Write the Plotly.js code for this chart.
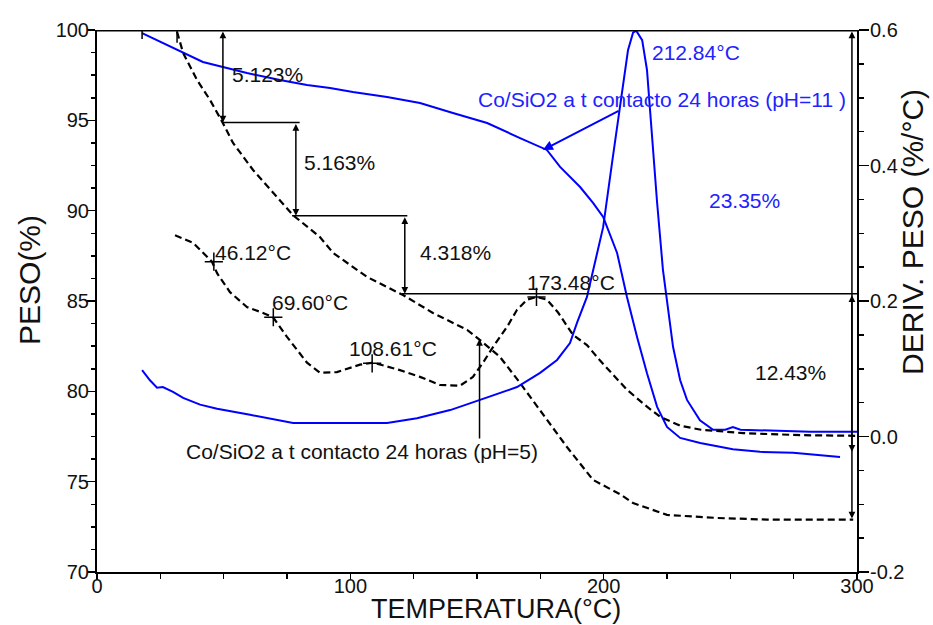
<!DOCTYPE html>
<html><head><meta charset="utf-8">
<script src="https://cdn.plot.ly/plotly-3.0.1.min.js"></script>
<style>html,body{margin:0;padding:0;background:#fff}</style>
</head><body><div id="chart" style="width:933px;height:625px"></div>
<script>
// ---- DATA ----
// TG weight curve, pH=11 (blue, left axis)
const tg11T = [17.8, 26, 34, 41.8, 49.7, 59.2, 72.2, 82.9, 92, 101, 114.5, 127.5, 140.5, 154, 167, 177.6, 182.8, 190.7, 195.8, 199.8, 205.3, 209.2, 213.2, 217.1, 221.1, 225, 230.2, 238.1, 251, 261.7, 274.8, 289.4, 293.3];
const tg11W = [99.83, 99.28, 98.73, 98.23, 97.95, 97.62, 97.23, 96.96, 96.79, 96.57, 96.29, 95.96, 95.41, 94.85, 94.02, 93.36, 92.42, 91.31, 90.43, 89.65, 87.66, 85.22, 83.0, 81.0, 79.14, 78.03, 77.42, 77.14, 76.8, 76.65, 76.6, 76.43, 76.37];
// Derivative curve, pH=11 (blue, right axis)
const dtg11T = [17.8, 20.9, 23.7, 26, 30, 34, 40.7, 47.4, 60.4, 69.5, 77.4, 88, 114.5, 126.3, 139.4, 151.2, 165.8, 174.9, 181.6, 186.7, 189.5, 193.4, 195.8, 197.8, 199.8, 203.3, 205.7, 207.7, 209.6, 211.6, 212.84, 215.2, 217.1, 218.3, 219.5, 221.1, 223.4, 225.4, 227.4, 230.2, 232.9, 238, 243.2, 248, 251, 254, 281.5, 300];
const dtg11D = [0.098, 0.083, 0.072, 0.073, 0.066, 0.057, 0.047, 0.041, 0.032, 0.026, 0.020, 0.020, 0.020, 0.027, 0.039, 0.054, 0.073, 0.094, 0.113, 0.138, 0.168, 0.206, 0.246, 0.275, 0.309, 0.404, 0.467, 0.526, 0.570, 0.596, 0.599, 0.585, 0.541, 0.482, 0.418, 0.345, 0.246, 0.187, 0.132, 0.083, 0.054, 0.024, 0.010, 0.010, 0.014, 0.010, 0.007, 0.007];
// TG weight curve, pH=5 (black dashed, left axis)
const tg5T = [31.6, 34, 39.5, 44.6, 49.3, 53.7, 61.6, 69.5, 77.4, 88, 93.2, 106.6, 120.8, 132.6, 146.1, 151.2, 159.1, 167, 171, 174.9, 185.5, 195.8, 206.5, 211.6, 225, 244.8, 264.5, 298.5];
const tg5W = [99.9, 98.73, 97.23, 96.13, 94.95, 93.75, 92.25, 90.98, 89.75, 88.54, 87.66, 86.33, 85.33, 84.34, 83.4, 82.84, 81.9, 80.46, 79.69, 78.97, 76.92, 75.1, 74.3, 73.82, 73.16, 72.99, 72.9, 72.9];
// Derivative curve, pH=5 (black dashed, right axis)
const dtg5T = [30.8, 37.9, 45.4, 47.4, 52.5, 59.2, 64.4, 69.5, 75, 79, 82.9, 88, 94.7, 103.8, 109, 119.6, 127.5, 135.4, 143.3, 148.4, 152.4, 156.3, 161.9, 165.8, 169.8, 173.48, 177.6, 182, 187.9, 193.4, 198.6, 209.2, 217.1, 222.3, 230.2, 238.4, 255, 277.5, 300];
const dtg5D = [0.297, 0.286, 0.258, 0.241, 0.213, 0.191, 0.184, 0.176, 0.147, 0.128, 0.109, 0.094, 0.095, 0.106, 0.109, 0.098, 0.088, 0.076, 0.075, 0.088, 0.109, 0.132, 0.162, 0.187, 0.202, 0.206, 0.202, 0.183, 0.150, 0.135, 0.112, 0.069, 0.044, 0.029, 0.016, 0.010, 0.005, 0.002, 0.001];
// Peak temperatures (pH=5 derivative) and their derivative values
const peakT = [46.12, 69.60, 108.61, 173.48];
const peakD = [0.258, 0.176, 0.108, 0.206];
// Peak of pH=11 derivative
const peak11T = 212.84;
// Weight losses, pH=5 (steps) and pH=11 (total)
const losses5 = [5.123, 5.163, 4.318, 12.43];
const loss11 = 23.35;
// Labels
const label11 = 'Co/SiO2 a t contacto 24 horas (pH=11 )';
const label5 = 'Co/SiO2 a t contacto 24 horas (pH=5)';
const yTicks2 = [-0.2, 0.0, 0.2, 0.4, 0.6];
const yTickText2 = ['-0.2', '0.0', '0.2', '0.4', '0.6'];

// ---- STYLE / LAYOUT ----
const F = 'Liberation Sans, Arial, Helvetica, sans-serif';
const BLUE = '#0000ff';
const TBLUE = '#2222ff';
const DASH = '7px,4px';

const levels = [100];
losses5.forEach(d => levels.push(+(levels[levels.length - 1] - d).toFixed(3)));

const traces = [
  {x: tg11T, y: tg11W, mode: 'lines', line: {color: BLUE, width: 2}, yaxis: 'y', hoverinfo: 'skip'},
  {x: dtg11T, y: dtg11D, mode: 'lines', line: {color: BLUE, width: 2}, yaxis: 'y2', hoverinfo: 'skip'},
  {x: tg5T, y: tg5W, mode: 'lines', line: {color: '#000', width: 2.2, dash: DASH}, yaxis: 'y', hoverinfo: 'skip'},
  {x: dtg5T, y: dtg5D, mode: 'lines', line: {color: '#000', width: 2.2, dash: DASH}, yaxis: 'y2', hoverinfo: 'skip'},
  {x: peakT, y: peakD, mode: 'markers', yaxis: 'y2', hoverinfo: 'skip',
   marker: {symbol: 'cross-thin-open', size: 13, color: '#000', line: {color: '#000', width: 1.5}}}
];

// positions of the measurement arrows (x, in °C) and their labels
const stepX = [49.7, 78.5, 121.5, 298];
const lossLabelPos = [[52.5, 97.51], [80.9, 92.64], [126.7, 87.66], [259, 81.07]];
const peakLabelPos = [[45.8, 0.272], [68.3, 0.1985], [98.7, 0.1306], [169, 0.228]];

const annotations = [];
const shapes = [];
const txtFont = (c) => ({family: F, size: 21, color: c});

losses5.forEach((d, i) => {
  annotations.push({x: stepX[i], y: levels[i + 1], ax: stepX[i], ay: levels[i],
    xref: 'x', yref: 'y', axref: 'x', ayref: 'y', text: '', showarrow: true,
    arrowhead: 2, startarrowhead: 2, arrowside: 'end+start', arrowsize: 0.9, startarrowsize: 0.9,
    arrowwidth: 1.5, arrowcolor: '#000'});
  annotations.push({x: lossLabelPos[i][0], y: lossLabelPos[i][1], xref: 'x', yref: 'y',
    text: d.toFixed(d < 10 ? 3 : 2) + '%', showarrow: false, xanchor: 'left', yanchor: 'middle',
    font: txtFont('#111')});
});
// pH=11 total loss arrow
annotations.push({x: stepX[3], y: 100 - loss11, ax: stepX[3], ay: 100,
  xref: 'x', yref: 'y', axref: 'x', ayref: 'y', text: '', showarrow: true,
  arrowhead: 2, startarrowhead: 2, arrowside: 'end+start', arrowsize: 0.9, startarrowsize: 0.9,
  arrowwidth: 1.5, arrowcolor: '#000'});
annotations.push({x: 240.8, y: 90.59, xref: 'x', yref: 'y', text: loss11.toFixed(2) + '%',
  showarrow: false, xanchor: 'left', yanchor: 'middle', font: txtFont(TBLUE)});
annotations.push({x: 218.3, y: 98.78, xref: 'x', yref: 'y', text: peak11T.toFixed(2) + '°C',
  showarrow: false, xanchor: 'left', yanchor: 'middle', font: txtFont(TBLUE)});

// peak labels
peakT.forEach((t, i) => {
  annotations.push({x: peakLabelPos[i][0], y: peakLabelPos[i][1], xref: 'x', yref: 'y2',
    text: t.toFixed(2) + '°C', showarrow: false, xanchor: 'left', yanchor: 'middle', font: txtFont('#111')});
});

// series labels with pointers
annotations.push({x: 223, y: 96.13, xref: 'x', yref: 'y', text: label11, showarrow: false,
  xanchor: 'center', yanchor: 'middle', font: txtFont(TBLUE)});
annotations.push({x: 176, y: 93.36, ax: 206.5, ay: 95.57, xref: 'x', yref: 'y', axref: 'x', ayref: 'y',
  text: '', showarrow: true, arrowhead: 2, arrowsize: 1, arrowwidth: 2, arrowcolor: BLUE});
annotations.push({x: 104.8, y: 76.65, xref: 'x', yref: 'y', text: label5, showarrow: false,
  xanchor: 'center', yanchor: 'middle', font: txtFont('#111')});
annotations.push({x: 151, y: 82.9, ax: 151, ay: 77.3, xref: 'x', yref: 'y', axref: 'x', ayref: 'y',
  text: '', showarrow: true, arrowhead: 2, arrowsize: 0.9, arrowwidth: 1.5, arrowcolor: '#000'});

// axis titles
annotations.push({xref: 'paper', yref: 'paper', x: 0.525, y: -0.069, text: 'TEMPERATURA(°C)',
  showarrow: false, xanchor: 'center', yanchor: 'middle', font: {family: F, size: 27, color: '#111'}});
annotations.push({xref: 'paper', yref: 'paper', x: -0.088, y: 0.539, text: 'PESO(%)', textangle: -90,
  showarrow: false, xanchor: 'center', yanchor: 'middle', font: {family: F, size: 30, color: '#111'}});
annotations.push({xref: 'paper', yref: 'paper', x: 1.072, y: 0.627, text: 'DERIV. PESO (%/°C)', textangle: -90,
  showarrow: false, xanchor: 'center', yanchor: 'middle', font: {family: F, size: 30, color: '#111'}});

// step connector lines
shapes.push({type: 'line', xref: 'x', yref: 'y', x0: 0, x1: 300, y0: levels[0], y1: levels[0], line: {color: '#000', width: 3}});
shapes.push({type: 'line', xref: 'x', yref: 'y', x0: 49.3, x1: 80, y0: levels[1], y1: levels[1], line: {color: '#000', width: 1.5}});
shapes.push({type: 'line', xref: 'x', yref: 'y', x0: 77, x1: 122.5, y0: levels[2], y1: levels[2], line: {color: '#000', width: 1.5}});
shapes.push({type: 'line', xref: 'x', yref: 'y', x0: 120.4, x1: 300, y0: levels[3], y1: levels[3], line: {color: '#000', width: 1.5}});
// start markers
shapes.push({type: 'line', xref: 'x', yref: 'y', x0: tg11T[0], x1: tg11T[0], y0: 99.5, y1: 100.1, line: {color: '#000', width: 1.5}});
shapes.push({type: 'line', xref: 'x', yref: 'y', x0: tg5T[0], x1: tg5T[0], y0: 99.3, y1: 100.1, line: {color: '#000', width: 1.5}});

const axBase = {showgrid: false, zeroline: false, showline: true, linecolor: '#000', linewidth: 2,
  ticks: 'outside', tickcolor: '#000', tickwidth: 1.5, tickfont: {family: F, size: 20, color: '#111'}};

const layout = {
  width: 933, height: 625,
  margin: {l: 97, r: 76, t: 30, b: 53},
  paper_bgcolor: '#fff', plot_bgcolor: '#fff',
  showlegend: false,
  xaxis: Object.assign({}, axBase, {range: [0, 300], tick0: 0, dtick: 100, ticklen: 6, ticklabelstandoff: -11,
    minor: {dtick: 25, tick0: 0, ticks: 'outside', ticklen: 5, tickwidth: 1.5, tickcolor: '#000', showgrid: false}}),
  yaxis: Object.assign({}, axBase, {range: [70, 100], tick0: 70, dtick: 5, ticklen: 8, ticklabelstandoff: -6,
    minor: {dtick: 1.25, tick0: 70, ticks: 'outside', ticklen: 4, tickwidth: 1.5, tickcolor: '#000', showgrid: false}}),
  yaxis2: Object.assign({}, axBase, {overlaying: 'y', side: 'right', range: [-0.2, 0.6],
    tickmode: 'array', tickvals: yTicks2, ticktext: yTickText2, ticklen: 10, ticklabelstandoff: -3,
    minor: {tickmode: 'linear', dtick: 0.05, tick0: -0.2, ticks: 'outside', ticklen: 5, tickwidth: 1.5, tickcolor: '#000', showgrid: false}}),
  annotations: annotations,
  shapes: shapes
};

Plotly.newPlot('chart', traces, layout, {displayModeBar: false, staticPlot: true});
</script></body></html>
